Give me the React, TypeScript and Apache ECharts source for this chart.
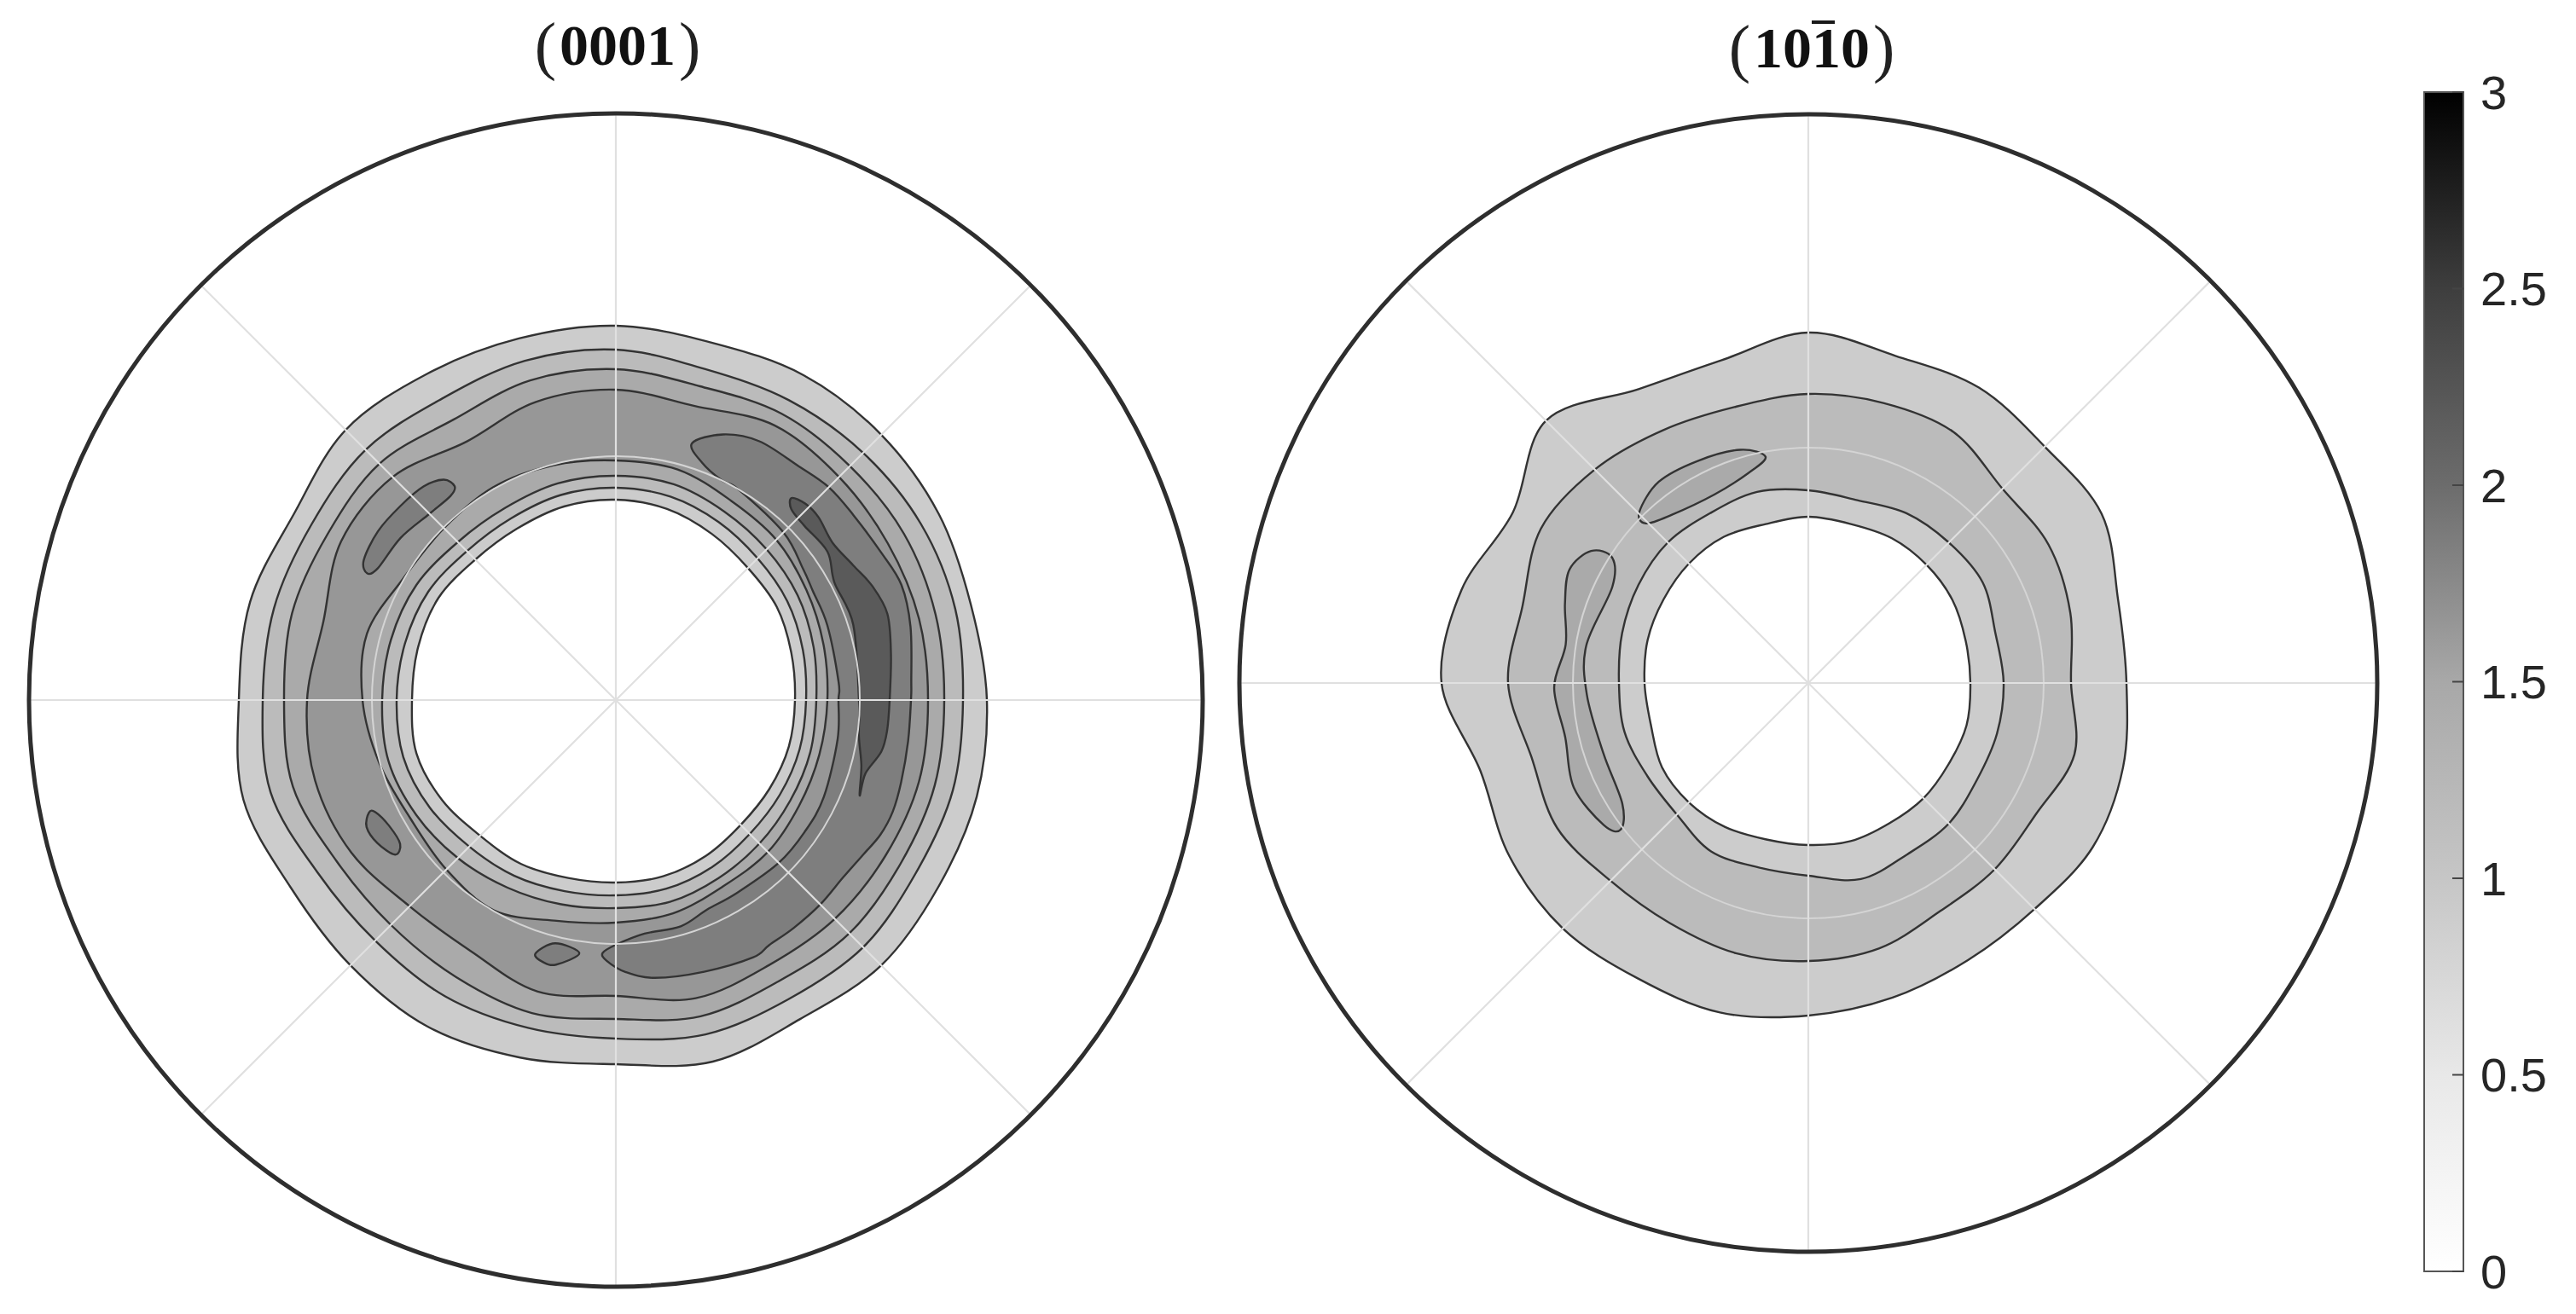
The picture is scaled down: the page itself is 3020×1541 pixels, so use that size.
import React, { useEffect, useRef } from "react";
import * as echarts from "echarts";

const ANGLES = [0, 15, 30, 45, 60, 75, 90, 105, 120, 135, 150, 165, 180, 195, 210, 225, 240, 255, 270, 285, 300, 315, 330, 345];
const SPOKES = [0, 45, 90, 135, 180, 225, 270, 315];

const LEFT_MAX = 688;
const RIGHT_MAX = 667;
const LEFT_RING = 286;
const RIGHT_RING = 276;

// (0001) rings
const L1_OUT = [435, 431, 437, 440, 440, 434, 439, 439, 442, 448, 436, 444, 442, 452, 440, 440, 442, 434, 427, 439, 432, 440, 437, 438];
const L2_OUT = [407, 412, 413, 410, 406, 402, 411, 412, 408, 415, 412, 415, 414, 419, 404, 399, 401, 398, 397, 406, 405, 410, 406, 409];
const L3_OUT = [385, 388, 390, 388, 388, 381, 388, 388, 380, 392, 390, 393, 389, 392, 378, 373, 375, 380, 374, 384, 381, 387, 385, 387];
const L4_OUT = [366, 368, 368, 370, 372, 357, 364, 362, 350, 370, 372, 355, 362, 365, 358, 342, 340, 354, 347, 362, 359, 363, 365, 368];
const L4_IN = [248, 252, 258, 266, 270, 280, 281, 285, 288, 285, 287, 302, 297, 287, 278, 281, 285, 268, 261, 259, 252, 252, 248, 247];
const L3_IN = [235, 240, 246, 250, 255, 262, 263, 263, 260, 262, 270, 273, 274, 276, 270, 262, 254, 248, 244, 245, 241, 238, 236, 236];
const L2_IN = [223, 227, 232, 235, 241, 247, 249, 249, 246, 247, 254, 256, 257, 258, 252, 243, 238, 232, 229, 229, 226, 222, 222, 223];
const L1_IN = [210, 213, 218, 219, 225, 232, 235, 235, 232, 233, 240, 240, 239, 242, 235, 225, 222, 216, 214, 214, 211, 207, 208, 210];

// (0001) islands: [radius, angle]
const L5_CRESCENT: [number, number][] = [
  [314, 73.5], [336, 68], [347, 61], [348, 52], [353, 45], [353, 38], [356, 29], [361, 22], [356, 14], [347, 3.5],
  [346, 0], [346, 352], [348, 344], [350, 338], [348, 333], [342, 328], [338, 322], [339, 315], [339, 308], [339, 302],
  [342, 298], [335, 288], [329, 278], [319, 272], [306, 268], [297, 267], [287, 270], [276, 277], [276, 286],
  [268, 293.5], [267, 302], [270, 315], [270, 325], [269, 335], [264, 350], [261, 360], [262, 364.6], [263, 379.5],
  [264, 389], [268, 395], [278, 405], [286, 420], [286, 424.3], [296, 430],
];
const L6_CRESCENT: [number, number][] = [
  [314, 49], [320, 46], [320, 42], [314, 36], [320, 29.6], [329, 24], [334, 17.6], [327, 9.5], [321, 0], [320, 353.5 - 360],
  [317, 349 - 360], [305, 343.6 - 360], [307, 338.6 - 360], [298, 345 - 360], [288, 351.6 - 360], [285, 0], [292, 17.6], [291, 28.3], [303, 35], [301, 42.7], [304, 47.4],
];
const L5_NW: [number, number][] = [
  [314, 127], [328, 128], [337, 132], [340, 138], [342, 144.6], [338, 151], [327, 153], [319, 151], [316, 143], [309, 135], [308, 129],
];
const L5_SW: [number, number][] = [
  [318, 204.5], [328, 207], [326, 211], [316, 215], [304, 213.7], [304, 209], [311, 205],
];
const L5_S: [number, number][] = [
  [312, 252.4], [294, 256], [300, 261.8], [318, 257.3], [319, 254.5],
];

// (10-10) rings
const R1_OUT = [373, 376, 397, 392, 400, 397, 411, 392, 398, 435, 400, 421, 430, 398, 405, 407, 400, 400, 390, 382, 375, 375, 385, 382];
const R2_OUT = [308, 318, 325, 322, 340, 340, 339, 335, 342, 354, 362, 347, 352, 336, 340, 328, 325, 328, 326, 322, 309, 309, 308, 323];
const R2_IN = [229, 227, 236, 233, 230, 222, 226, 232, 230, 233, 230, 226, 222, 223, 218, 218, 228, 224, 226, 238, 232, 233, 228, 229];
const R1_IN = [190, 191, 195, 196, 196, 193, 195, 193, 198, 198, 196, 195, 192, 191, 198, 198, 195, 190, 190, 192, 190, 191, 190, 192];
const R3_TOP: [number, number][] = [
  [270, 100.7], [285, 106.3], [291, 116.6], [294, 126.6], [282, 134.6], [267, 135.5], [254, 129], [247, 116.5], [256, 106],
];
const R3_LEFT: [number, number][] = [
  [273, 147.4], [298, 148.7], [310, 154.6], [300, 162], [288, 171], [298, 181], [292, 192.6], [301, 204], [292, 214.8],
  [279, 218], [260, 213], [254, 199], [260, 183], [264, 170.4], [256, 153.8],
];

// Fill greys per level
const GREY_L1 = "#cccccc";
const GREY_L2 = "#bbbbbb";
const GREY_L3 = "#aaaaaa";
const GREY_L4 = "#979797";
const GREY_L5 = "#7e7e7e";
const GREY_L6 = "#5a5a5a";

// Colour bar
const BAR_VALUES = [0, 0.5, 1, 1.5, 2, 2.5, 3];
const BAR_GREYS = [255, 232, 198, 168, 108, 62, 0];
const TITLE_LEFT = "0001";
const TITLE_RIGHT = "1010";

const LINE = "#333333";

function ring(values: number[]): [number, number][] {
  return values.map((r, i) => [r, ANGLES[i]] as [number, number]);
}

function closedSpline(p: number[][]): string {
  const n = p.length;
  let d = `M${p[0][0].toFixed(2)} ${p[0][1].toFixed(2)}`;
  for (let i = 0; i < n; i++) {
    const p0 = p[(i - 1 + n) % n];
    const p1 = p[i];
    const p2 = p[(i + 1) % n];
    const p3 = p[(i + 2) % n];
    const c1x = p1[0] + (p2[0] - p0[0]) / 6;
    const c1y = p1[1] + (p2[1] - p0[1]) / 6;
    const c2x = p2[0] - (p3[0] - p1[0]) / 6;
    const c2y = p2[1] - (p3[1] - p1[1]) / 6;
    d += `C${c1x.toFixed(2)} ${c1y.toFixed(2)} ${c2x.toFixed(2)} ${c2y.toFixed(2)} ${p2[0].toFixed(2)} ${p2[1].toFixed(2)}`;
  }
  return d + "Z";
}

function contour(polarIndex: number, pts: [number, number][], fill: string, z = 2, lineWidth = 2.4) {
  return {
    type: "custom",
    coordinateSystem: "polar",
    polarIndex,
    silent: true,
    z,
    clip: false,
    data: pts.map(([r, a]) => [r, ((a % 360) + 360) % 360]),
    encode: { radius: 0, angle: 1 },
    renderItem(params: any, api: any) {
      if (params.dataIndex !== 0) return null;
      const points = pts.map(([r, a]) => api.coord([r, ((a % 360) + 360) % 360]));
      return {
        type: "path",
        shape: { pathData: closedSpline(points) },
        style: { fill, stroke: LINE, lineWidth },
      };
    },
  };
}

function overlay(polarIndex: number, maxR: number, ringR: number) {
  return [
    {
      type: "custom",
      coordinateSystem: "polar",
      polarIndex,
      silent: true,
      z: 5,
      clip: false,
      data: [[ringR, 0]],
      encode: { radius: 0, angle: 1 },
      renderItem(_p: any, api: any) {
        const c = api.coord([0, 0]);
        const e = api.coord([ringR, 0]);
        return {
          type: "circle",
          shape: { cx: c[0], cy: c[1], r: Math.hypot(e[0] - c[0], e[1] - c[1]) },
          style: { fill: "none", stroke: "#d4d4d4", lineWidth: 2 },
        };
      },
    },
    {
      type: "custom",
      coordinateSystem: "polar",
      polarIndex,
      silent: true,
      z: 5,
      clip: false,
      data: SPOKES.map((a) => [maxR, a]),
      encode: { radius: 0, angle: 1 },
      renderItem(p: any, api: any) {
        const a = SPOKES[p.dataIndex];
        const s = api.coord([0, a]);
        const e = api.coord([maxR, a]);
        return {
          type: "line",
          shape: { x1: s[0], y1: s[1], x2: e[0], y2: e[1] },
          style: { stroke: "#e0e0e0", lineWidth: 2.2 },
        };
      },
    },
  ];
}

function polarAxis(polarIndex: number, maxR: number) {
  return {
    radius: { polarIndex, type: "value", min: 0, max: maxR, show: false },
    angle: {
      polarIndex,
      type: "value",
      min: 0,
      max: 360,
      startAngle: 0,
      clockwise: false,
      z: 6,
      axisLine: { show: true, lineStyle: { color: "#2e2e2e", width: 5 } },
      axisTick: { show: false },
      axisLabel: { show: false },
      splitLine: { show: false },
    },
  };
}

function titleRich() {
  return {
    p: { fontFamily: "Liberation Serif", fontSize: 76, fontWeight: "normal", color: "#222", padding: [0, 4, 0, 4] },
    b: { fontFamily: "Liberation Serif", fontSize: 68, fontWeight: "bold", color: "#111" },
  };
}

export default function App() {
  const ref = useRef<HTMLDivElement>(null);
  useEffect(() => {
    document.body.style.margin = "0";
    const chart = echarts.init(ref.current!, undefined, { renderer: "svg" });
    const la = polarAxis(0, LEFT_MAX);
    const ra = polarAxis(1, RIGHT_MAX);
    const stops = BAR_VALUES.map((v, i) => ({
      offset: 1 - v / 3,
      color: `rgb(${BAR_GREYS[i]},${BAR_GREYS[i]},${BAR_GREYS[i]})`,
    })).reverse();
    chart.setOption({
      animation: false,
      backgroundColor: "#ffffff",
      title: [
        { text: `{p|(}{b|${TITLE_LEFT}}{p|)}`, left: 719, top: 10, textAlign: "center", textStyle: { rich: titleRich() } },
        { text: `{p|(}{b|${TITLE_RIGHT}}{p|)}`, left: 2119, top: 13, textAlign: "center", textStyle: { rich: titleRich() } },
      ],
      graphic: [
        { type: "rect", shape: { x: 2124, y: 24, width: 27, height: 4 }, style: { fill: "#1a1a1a" } },
      ],
      polar: [
        { center: [722, 821], radius: LEFT_MAX },
        { center: [2120, 801], radius: RIGHT_MAX },
      ],
      radiusAxis: [la.radius, ra.radius],
      angleAxis: [la.angle, ra.angle],
      grid: { left: 2842, top: 108, width: 46, height: 1383, show: true, borderColor: "#555", borderWidth: 2, backgroundColor: "transparent", z: 8 },
      xAxis: { type: "value", min: 0, max: 1, show: false },
      yAxis: {
        type: "value",
        min: 0,
        max: 3,
        interval: 0.5,
        position: "right",
        axisLine: { show: true, lineStyle: { color: "#555", width: 2 } },
        axisTick: { show: false },
        splitLine: { show: false },
        axisLabel: { margin: 20, fontFamily: "Liberation Sans", fontSize: 56, color: "#262626", padding: [6, 0, 0, 0] },
        z: 9,
      },
      series: [
        contour(0, ring(L1_OUT), GREY_L1),
        contour(0, ring(L2_OUT), GREY_L2),
        contour(0, ring(L3_OUT), GREY_L3),
        contour(0, ring(L4_OUT), GREY_L4),
        contour(0, ring(L4_IN), GREY_L3),
        contour(0, ring(L3_IN), GREY_L2),
        contour(0, ring(L2_IN), GREY_L1),
        contour(0, ring(L1_IN), "#ffffff"),
        contour(0, L5_CRESCENT.map(([r, a]) => [r, a] as [number, number]), GREY_L5),
        contour(0, L6_CRESCENT, GREY_L6),
        contour(0, L5_NW, GREY_L5),
        contour(0, L5_SW, GREY_L5),
        contour(0, L5_S, GREY_L5),
        contour(1, ring(R1_OUT), GREY_L1),
        contour(1, ring(R2_OUT), GREY_L2),
        contour(1, ring(R2_IN), GREY_L1),
        contour(1, ring(R1_IN), "#ffffff"),
        contour(1, R3_TOP, GREY_L3),
        contour(1, R3_LEFT, GREY_L3),
        ...overlay(0, LEFT_MAX, LEFT_RING),
        ...overlay(1, RIGHT_MAX, RIGHT_RING),
        {
          type: "custom",
          coordinateSystem: "cartesian2d",
          silent: true,
          z: 3,
          clip: false,
          data: [[0, 0]],
          renderItem(_p: any, api: any) {
            const tl = api.coord([0, 3]);
            const br = api.coord([1, 0]);
            return {
              type: "rect",
              shape: { x: tl[0], y: tl[1], width: br[0] - tl[0], height: br[1] - tl[1] },
              style: {
                fill: new echarts.graphic.LinearGradient(0, 0, 0, 1, stops),
                stroke: "none",
              },
            };
          },
        },
        {
          type: "custom",
          coordinateSystem: "cartesian2d",
          silent: true,
          z: 10,
          clip: false,
          data: BAR_VALUES.map((v) => [1, v]),
          renderItem(p: any, api: any) {
            const e = api.coord([1, BAR_VALUES[p.dataIndex]]);
            return {
              type: "line",
              shape: { x1: e[0] - 13, y1: e[1], x2: e[0], y2: e[1] },
              style: { stroke: "#444444", lineWidth: 2 },
            };
          },
        },
      ],
    });
    return () => chart.dispose();
  }, []);
  return <div ref={ref} style={{ position: "fixed", left: 0, top: 0, width: 3020, height: 1541, background: "#fff" }} />;
}
